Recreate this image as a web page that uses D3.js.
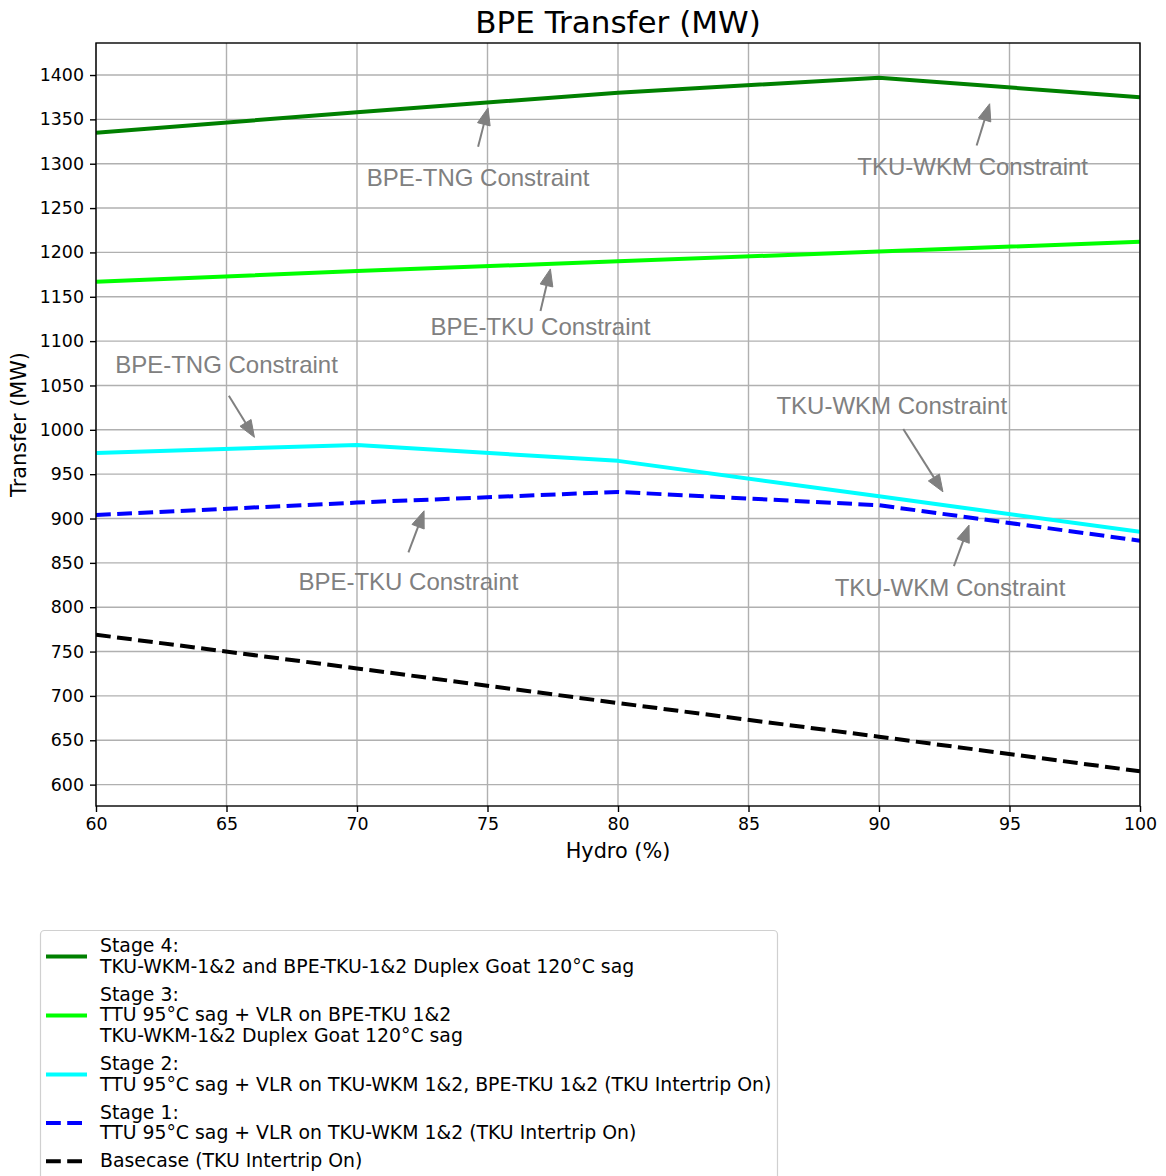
<!DOCTYPE html>
<html>
<head>
<meta charset="utf-8">
<script src="https://cdn.jsdelivr.net/npm/d3@7"></script>
<style>
  html, body { margin: 0; padding: 0; background: #fff; }
  svg { display: block; }
</style>
</head>
<body>
<div id="chart"></div>
<script>
// ---------------- data ----------------
const hydro = [60, 70, 80, 90, 100];
const stage4 = [1335, 1358, 1380, 1397, 1375];
const stage3 = [1167, 1179, 1190, 1201, 1212];
const stage2 = [974, 983, 965, 925, 885];
const stage1 = [904, 918, 930, 915, 875];
const basecase = [769, 731, 692, 654, 615];

const xTicks = [60, 65, 70, 75, 80, 85, 90, 95, 100];
const yTicks = [600, 650, 700, 750, 800, 850, 900, 950, 1000, 1050, 1100, 1150, 1200, 1250, 1300, 1350, 1400];

const seriesNames = ["stage4", "stage3", "stage2", "stage1", "basecase"];
const seriesLabels = [
  ["Stage 4:", "TKU-WKM-1&2 and BPE-TKU-1&2 Duplex Goat 120°C sag"],
  ["Stage 3:", "TTU 95°C sag + VLR on BPE-TKU 1&2", "TKU-WKM-1&2 Duplex Goat 120°C sag"],
  ["Stage 2:", "TTU 95°C sag + VLR on TKU-WKM 1&2, BPE-TKU 1&2 (TKU Intertrip On)"],
  ["Stage 1:", "TTU 95°C sag + VLR on TKU-WKM 1&2 (TKU Intertrip On)"],
  ["Basecase (TKU Intertrip On)"]
];

// annotations: text anchor (hydro, MW baseline), arrow tail, arrow tip (data units)
const annotLabels = ["BPE-TNG Constraint", "TKU-WKM Constraint", "BPE-TKU Constraint",
  "BPE-TNG Constraint", "TKU-WKM Constraint", "BPE-TKU Constraint", "TKU-WKM Constraint"];
const annotText = [[74.64, 1275], [93.59, 1287.5], [77.03, 1107], [65.0, 1064.4], [90.49, 1017.8], [71.97, 819.2], [92.72, 812.4]];
const annotTail = [[74.64, 1319], [93.74, 1320.6], [77.03, 1134], [65.09, 1038.5], [90.93, 1000.9], [71.97, 861.8], [92.87, 846.3]];
const annotTip = [[75.02, 1363], [94.24, 1367.6], [77.41, 1181.4], [66.07, 991.5], [92.45, 930.1], [72.57, 908.7], [93.45, 892.6]];

// ---------------- layout / style ----------------
const W = 1166, H = 1176;
const M = { left: 96, right: 1140, top: 43, bottom: 806 };
const styles = {
  stage4: { color: "#008000", dash: null },
  stage3: { color: "#00ff00", dash: null },
  stage2: { color: "#00ffff", dash: null },
  stage1: { color: "#0000ff", dash: "14.8,6.4" },
  basecase: { color: "#000000", dash: "14.8,6.4" }
};
const seriesData = { stage4, stage3, stage2, stage1, basecase };

const svg = d3.select("#chart").append("svg")
  .attr("width", W).attr("height", H)
  .style("font-family", "'DejaVu Sans', sans-serif");

const allVals = seriesNames.flatMap(n => seriesData[n]);
const [vmin, vmax] = d3.extent(allVals);
const pad = (vmax - vmin) * 0.05;

const x = d3.scaleLinear().domain([60, 100]).range([M.left, M.right]);
const y = d3.scaleLinear().domain([vmin - pad, vmax + pad]).range([M.bottom, M.top]);

// clip
svg.append("defs").append("clipPath").attr("id", "clip")
  .append("rect").attr("x", M.left).attr("y", M.top)
  .attr("width", M.right - M.left).attr("height", M.bottom - M.top);

// grid
const grid = svg.append("g");
grid.selectAll("line.vx").data(xTicks).enter().append("line")
  .attr("x1", d => x(d)).attr("x2", d => x(d))
  .attr("y1", M.top).attr("y2", M.bottom)
  .attr("stroke", "#b0b0b0").attr("stroke-width", 1.4);
grid.selectAll("line.hy").data(yTicks).enter().append("line")
  .attr("x1", M.left).attr("x2", M.right)
  .attr("y1", d => y(d)).attr("y2", d => y(d))
  .attr("stroke", "#b0b0b0").attr("stroke-width", 1.4);

// lines
const line = d3.line().x((d, i) => x(hydro[i])).y(d => y(d));
const linesG = svg.append("g").attr("clip-path", "url(#clip)");
seriesNames.forEach(n => {
  const p = linesG.append("path").datum(seriesData[n])
    .attr("d", line).attr("fill", "none")
    .attr("stroke", styles[n].color).attr("stroke-width", 4)
    .attr("stroke-linejoin", "round");
  if (styles[n].dash) p.attr("stroke-dasharray", styles[n].dash);
});

// axes
const xAxis = d3.axisBottom(x).tickValues(xTicks).tickSize(6).tickPadding(6).tickFormat(d3.format("d"));
const yAxis = d3.axisLeft(y).tickValues(yTicks).tickSize(6).tickPadding(6).tickFormat(d3.format("d"));
const gx = svg.append("g").attr("transform", `translate(0,${M.bottom})`).call(xAxis);
const gy = svg.append("g").attr("transform", `translate(${M.left},0)`).call(yAxis);
[gx, gy].forEach(g => {
  g.select(".domain").remove();
  g.selectAll(".tick line").attr("stroke", "#000").attr("stroke-width", 1.4);
  g.selectAll(".tick text").attr("fill", "#000")
    .style("font-family", "'DejaVu Sans', sans-serif").style("font-size", "17.4px");
});
gx.selectAll(".tick text").attr("dy", "0.71em");

// frame
svg.append("rect").attr("x", M.left).attr("y", M.top)
  .attr("width", M.right - M.left).attr("height", M.bottom - M.top)
  .attr("fill", "none").attr("stroke", "#000").attr("stroke-width", 1.4);

// annotations
const annG = svg.append("g");
annotLabels.forEach((lab, i) => {
  const [tx, ty] = [x(annotTail[i][0]), y(annotTail[i][1])];
  const [hx, hy] = [x(annotTip[i][0]), y(annotTip[i][1])];
  const dx = hx - tx, dy = hy - ty, len = Math.hypot(dx, dy);
  const ux = dx / len, uy = dy / len;
  const headL = 17, headW = 6.5;
  const bx = hx - ux * headL, by = hy - uy * headL;
  annG.append("line").attr("x1", tx).attr("y1", ty).attr("x2", bx + ux * 2).attr("y2", by + uy * 2)
    .attr("stroke", "#808080").attr("stroke-width", 2);
  annG.append("path")
    .attr("d", `M${hx},${hy}L${bx - uy * headW},${by + ux * headW}L${bx + uy * headW},${by - ux * headW}Z`)
    .attr("fill", "#808080").attr("stroke", "#808080").attr("stroke-width", 1);
  annG.append("text").attr("x", x(annotText[i][0])).attr("y", y(annotText[i][1]))
    .attr("text-anchor", "middle").attr("fill", "#808080")
    .style("font-family", "'Liberation Sans', Arial, sans-serif").style("font-size", "24px")
    .text(lab);
});

// titles
svg.append("text").attr("x", (M.left + M.right) / 2).attr("y", 33)
  .attr("text-anchor", "middle").style("font-size", "31px").attr("fill", "#000")
  .text("BPE Transfer (MW)");
svg.append("text").attr("x", (M.left + M.right) / 2).attr("y", 858)
  .attr("text-anchor", "middle").style("font-size", "20.8px").attr("fill", "#000")
  .text("Hydro (%)");
svg.append("text").attr("transform", `translate(26,${(M.top + M.bottom) / 2}) rotate(-90)`)
  .attr("text-anchor", "middle").style("font-size", "20.8px").attr("fill", "#000")
  .text("Transfer (MW)");

// legend
const lg = svg.append("g");
lg.append("rect").attr("x", 40.5).attr("y", 930.5).attr("width", 737).attr("height", 280)
  .attr("rx", 4).attr("fill", "#fff").attr("fill-opacity", 0.8)
  .attr("stroke", "#d0d0d0").attr("stroke-width", 1.2);
const lineH = 20.8, entryGap = 7;
let base = 952;
seriesNames.forEach((n, i) => {
  const lines = seriesLabels[i];
  const firstBase = base;
  lines.forEach((t, j) => {
    lg.append("text").attr("x", 100).attr("y", base + j * lineH)
      .style("font-size", "18.85px").attr("fill", "#000").text(t);
  });
  const lastBase = base + (lines.length - 1) * lineH;
  const cy = (firstBase + lastBase) / 2 - 6;
  const h = lg.append("line").attr("x1", 46).attr("x2", 87).attr("y1", cy).attr("y2", cy)
    .attr("stroke", styles[n].color).attr("stroke-width", 4);
  if (styles[n].dash) h.attr("stroke-dasharray", "14.8,6.4");
  base = lastBase + lineH + entryGap;
});
</script>
</body>
</html>
